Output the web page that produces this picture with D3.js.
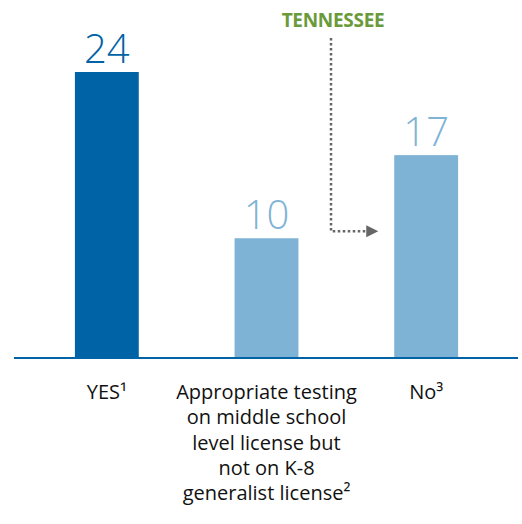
<!DOCTYPE html>
<html><head><meta charset="utf-8">
<script src="https://cdn.jsdelivr.net/npm/d3@7"></script>
<style>body{margin:0;background:#fff}svg{display:block}</style>
</head><body>
<script>
const categories = ["YES", "Appropriate testing on middle school level license but not on K-8 generalist license", "No"];
const labelLines = [["YES¹"], ["Appropriate testing", "on middle school", "level license but", "not on K-8", "generalist license²"], ["No³"]];
const values = [24, 10, 17];
const colors = ["#0063a6", "#7fb3d5", "#7fb3d5"];
const annotation = "TENNESSEE";

const W = 522, H = 524;
const svg = d3.select("body").append("svg").attr("width", W).attr("height", H);
const baseY = 357;
const x = d3.scaleBand().domain(categories).range([27, 506]).paddingInner(0.6).paddingOuter(0.3);
const y = d3.scaleLinear().domain([0, 24]).range([baseY, 72]);

svg.selectAll("rect.bar").data(values).join("rect")
  .attr("x", (d, i) => x(categories[i]))
  .attr("y", d => y(d))
  .attr("width", x.bandwidth())
  .attr("height", d => baseY - y(d))
  .attr("fill", (d, i) => colors[i]);

svg.selectAll("text.val").data(values).join("text")
  .attr("x", (d, i) => x(categories[i]) + x.bandwidth() / 2)
  .attr("y", d => y(d) - 9)
  .attr("text-anchor", "middle")
  .attr("font-family", "Open Sans, sans-serif")
  .attr("font-weight", 300)
  .attr("font-size", 40)
  .attr("fill", (d, i) => colors[i])
  .text(d => d);

svg.append("line").attr("x1", 14).attr("x2", 518).attr("y1", baseY + 1).attr("y2", baseY + 1)
  .attr("stroke", "#0063a6").attr("stroke-width", 2);

labelLines.forEach((lines, i) => {
  const cx = x(categories[i]) + x.bandwidth() / 2;
  const t = svg.append("text").attr("text-anchor", "middle")
    .attr("font-family", "Open Sans, sans-serif").attr("font-size", 20).attr("fill", "#111");
  lines.forEach((ln, j) => {
    t.append("tspan").attr("x", cx).attr("y", 399 + j * 25.3).text(ln);
  });
});

// annotation
const tx = x(categories[2]);
svg.append("text").attr("x", 333).attr("y", 27).attr("text-anchor", "middle")
  .attr("font-family", "Open Sans, sans-serif").attr("font-weight", 700).attr("font-size", 19)
  .attr("letter-spacing", -0.3)
  .attr("fill", "#6a9a3a").text(annotation);
const ay = y(10) - 7;
svg.append("path").attr("d", `M331,38 V${ay} H${tx - 28}`)
  .attr("fill", "none").attr("stroke", "#666").attr("stroke-width", 2.5).attr("stroke-dasharray", "2.5,2.5");
svg.append("path").attr("d", `M${tx - 28},${ay - 6} L${tx - 16},${ay} L${tx - 28},${ay + 6} Z`).attr("fill", "#666");
</script>
</body></html>
